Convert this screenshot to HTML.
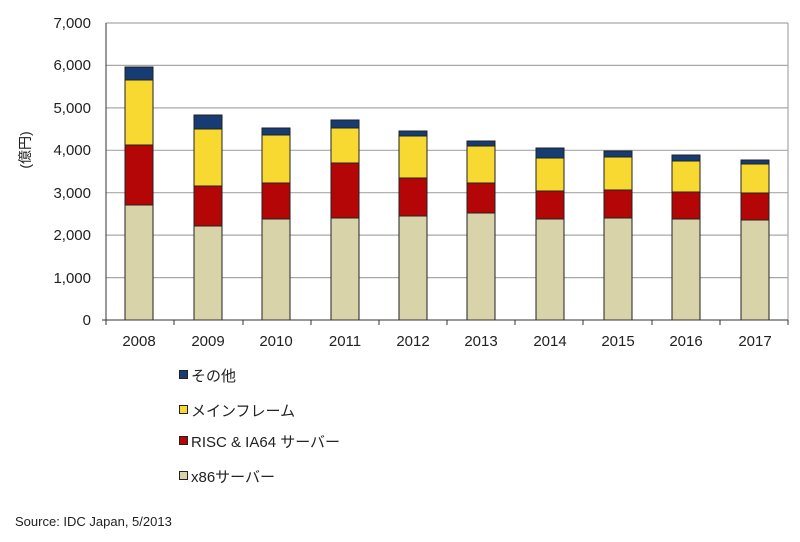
<!DOCTYPE html>
<html><head><meta charset="utf-8"><style>
html,body{margin:0;padding:0;background:#fff;}
svg{display:block;}
text{font-family:"Liberation Sans","Noto Sans CJK JP",sans-serif;fill:#222;}
</style></head><body>
<svg width="800" height="542" viewBox="0 0 800 542" xmlns="http://www.w3.org/2000/svg">
<g stroke="#a8a8a8" stroke-width="1.2">
<line x1="106" y1="23" x2="788" y2="23"/>
<line x1="106" y1="65.4" x2="788" y2="65.4"/>
<line x1="106" y1="107.9" x2="788" y2="107.9"/>
<line x1="106" y1="150.3" x2="788" y2="150.3"/>
<line x1="106" y1="192.7" x2="788" y2="192.7"/>
<line x1="106" y1="235.1" x2="788" y2="235.1"/>
<line x1="106" y1="277.6" x2="788" y2="277.6"/>
<line x1="788" y1="23" x2="788" y2="320"/>
</g>
<g font-size="15" text-anchor="end">
<text x="91" y="28">7,000</text>
<text x="91" y="70">6,000</text>
<text x="91" y="113">5,000</text>
<text x="91" y="155">4,000</text>
<text x="91" y="198">3,000</text>
<text x="91" y="240">2,000</text>
<text x="91" y="283">1,000</text>
<text x="91" y="325">0</text>
</g>
<text font-size="14" transform="translate(30,150) rotate(-90)" text-anchor="middle">(億円)</text>
<g stroke="#222" stroke-width="1">
<rect x="125" y="205" width="28" height="115" fill="#d9d3a9"/>
<rect x="125" y="145" width="28" height="60" fill="#b40606"/>
<rect x="125" y="80" width="28" height="65" fill="#f8d932"/>
<rect x="125" y="67" width="28" height="13" fill="#163c73"/>
<rect x="194" y="226" width="28" height="94" fill="#d9d3a9"/>
<rect x="194" y="186" width="28" height="40" fill="#b40606"/>
<rect x="194" y="129" width="28" height="57" fill="#f8d932"/>
<rect x="194" y="115" width="28" height="14" fill="#163c73"/>
<rect x="262" y="219" width="28" height="101" fill="#d9d3a9"/>
<rect x="262" y="183" width="28" height="36" fill="#b40606"/>
<rect x="262" y="135" width="28" height="48" fill="#f8d932"/>
<rect x="262" y="128" width="28" height="7" fill="#163c73"/>
<rect x="331" y="218" width="28" height="102" fill="#d9d3a9"/>
<rect x="331" y="163" width="28" height="55" fill="#b40606"/>
<rect x="331" y="128" width="28" height="35" fill="#f8d932"/>
<rect x="331" y="120" width="28" height="8" fill="#163c73"/>
<rect x="399" y="216" width="28" height="104" fill="#d9d3a9"/>
<rect x="399" y="178" width="28" height="38" fill="#b40606"/>
<rect x="399" y="136" width="28" height="42" fill="#f8d932"/>
<rect x="399" y="131" width="28" height="5" fill="#163c73"/>
<rect x="467" y="213" width="28" height="107" fill="#d9d3a9"/>
<rect x="467" y="183" width="28" height="30" fill="#b40606"/>
<rect x="467" y="146" width="28" height="37" fill="#f8d932"/>
<rect x="467" y="141" width="28" height="5" fill="#163c73"/>
<rect x="536" y="219" width="28" height="101" fill="#d9d3a9"/>
<rect x="536" y="191" width="28" height="28" fill="#b40606"/>
<rect x="536" y="158" width="28" height="33" fill="#f8d932"/>
<rect x="536" y="148" width="28" height="10" fill="#163c73"/>
<rect x="604" y="218" width="28" height="102" fill="#d9d3a9"/>
<rect x="604" y="190" width="28" height="28" fill="#b40606"/>
<rect x="604" y="157" width="28" height="33" fill="#f8d932"/>
<rect x="604" y="151" width="28" height="6" fill="#163c73"/>
<rect x="672" y="219" width="28" height="101" fill="#d9d3a9"/>
<rect x="672" y="192" width="28" height="27" fill="#b40606"/>
<rect x="672" y="161" width="28" height="31" fill="#f8d932"/>
<rect x="672" y="155" width="28" height="6" fill="#163c73"/>
<rect x="741" y="220" width="28" height="100" fill="#d9d3a9"/>
<rect x="741" y="193" width="28" height="27" fill="#b40606"/>
<rect x="741" y="164" width="28" height="29" fill="#f8d932"/>
<rect x="741" y="160" width="28" height="4" fill="#163c73"/>
</g>
<g stroke="#333" stroke-width="1">
<line x1="106" y1="23" x2="106" y2="320"/>
<line x1="102" y1="320" x2="788" y2="320"/>
<line x1="106" y1="320" x2="106" y2="325"/>
<line x1="174" y1="320" x2="174" y2="325"/>
<line x1="243" y1="320" x2="243" y2="325"/>
<line x1="311" y1="320" x2="311" y2="325"/>
<line x1="379" y1="320" x2="379" y2="325"/>
<line x1="447" y1="320" x2="447" y2="325"/>
<line x1="515" y1="320" x2="515" y2="325"/>
<line x1="583" y1="320" x2="583" y2="325"/>
<line x1="652" y1="320" x2="652" y2="325"/>
<line x1="720" y1="320" x2="720" y2="325"/>
<line x1="788" y1="320" x2="788" y2="325"/>
</g>
<g font-size="15" text-anchor="middle">
<text x="139" y="346">2008</text>
<text x="208" y="346">2009</text>
<text x="276" y="346">2010</text>
<text x="345" y="346">2011</text>
<text x="413" y="346">2012</text>
<text x="481" y="346">2013</text>
<text x="550" y="346">2014</text>
<text x="618" y="346">2015</text>
<text x="686" y="346">2016</text>
<text x="755" y="346">2017</text>
</g>
<g stroke="#222" stroke-width="1">
<rect x="179.5" y="370.5" width="8" height="8" fill="#163c73"/>
<rect x="179.5" y="405.5" width="8" height="8" fill="#f8d932"/>
<rect x="179.5" y="436.5" width="8" height="8" fill="#b40606"/>
<rect x="179.5" y="471.5" width="8" height="8" fill="#d9d3a9"/>
</g>
<g font-size="15">
<text x="191" y="381">その他</text>
<text x="191" y="416">メインフレーム</text>
<text x="191" y="447">RISC &amp; IA64 サーバー</text>
<text x="191" y="482">x86サーバー</text>
</g>
<text x="15" y="526" font-size="13" fill="#333">Source: IDC Japan, 5/2013</text>
</svg>
</body></html>
